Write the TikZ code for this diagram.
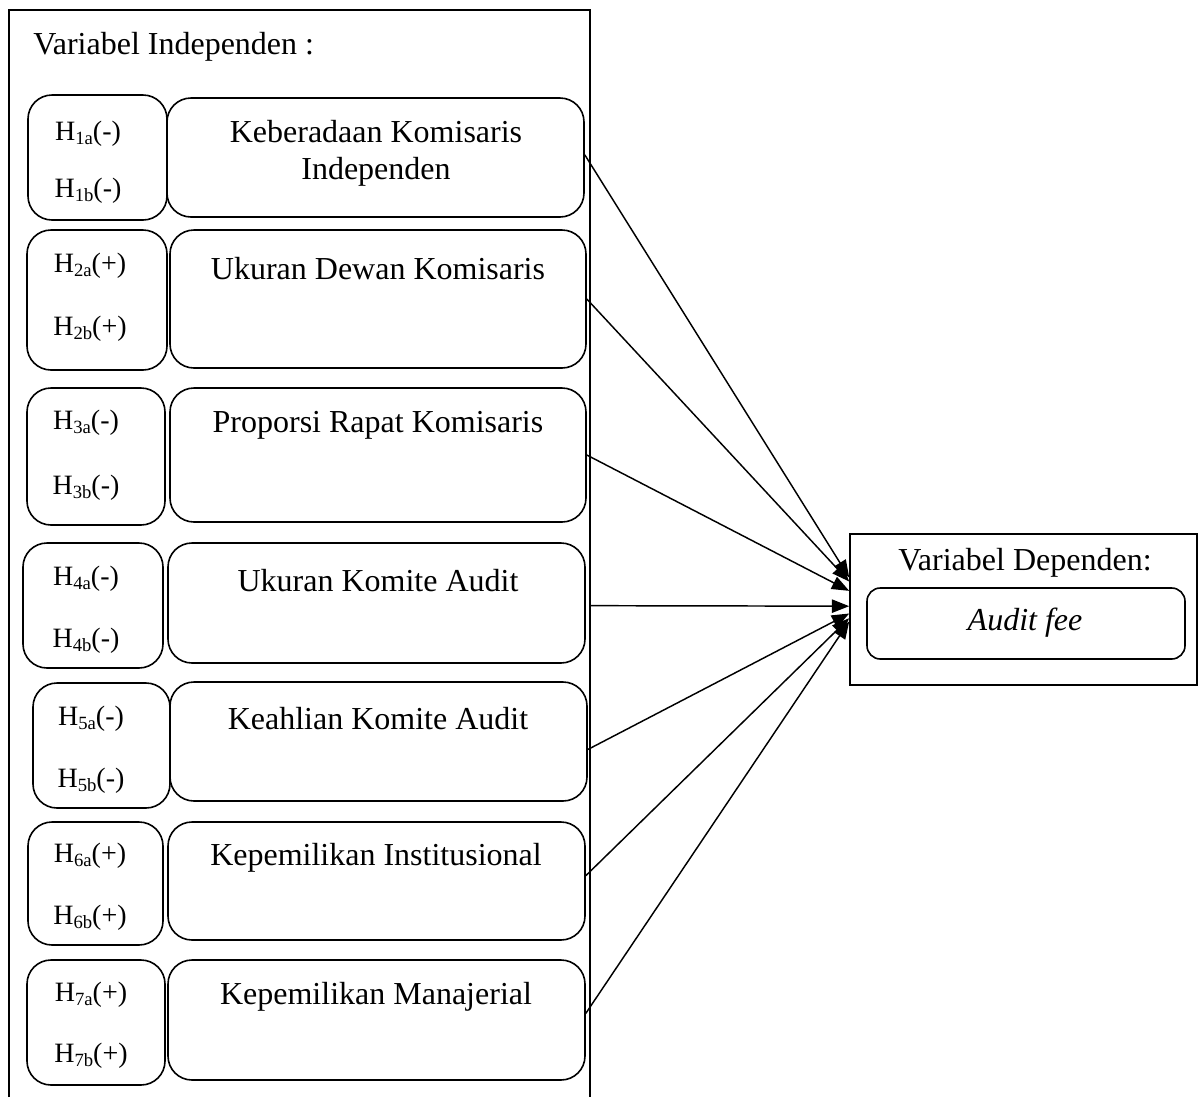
\documentclass[tikz,border=0pt]{standalone}
\usepackage{fontspec}
\setmainfont{Liberation Serif}
\usetikzlibrary{fit,arrows.meta}
\newcommand\hsub[1]{\raisebox{-2.5pt}{\fontsize{14}{14}\selectfont #1}}
\begin{document}
\begin{tikzpicture}[x=0.75pt,y=-0.75pt,
  rbox/.style={draw,line width=1.2pt,rounded corners=18pt,inner sep=0pt},
  sbox/.style={draw,line width=1.2pt,inner sep=0pt},
  txt/.style={font=\fontsize{24}{27.75}\selectfont,inner sep=0pt,align=center},
  htxt/.style={font=\fontsize{21}{24}\selectfont,inner sep=0pt},
  arr/.style={line width=1.1pt,-{Triangle[length=13pt,width=10pt]}}]
\useasboundingbox (0,0) rectangle (1199,1097);

% outer frame of independent variables
\draw[line width=1.2pt] (9,1097) -- (9,10) -- (590,10) -- (590,1097);
\node[txt,anchor=west] (indep) at (33,47) {Variabel Independen :};

% row 1
\node[rbox,fit={(28,95) (167,220)}] (s1) {};
\node[rbox,fit={(167,98) (584,217)}] (b1) {};
\node[htxt] (h1a) at (88,134) {H\hsub{1a}(-)};
\node[htxt] (h1b) at (88,191) {H\hsub{1b}(-)};
\node[txt] (t1) at (376,153) {Keberadaan Komisaris\\Independen};

% row 2
\node[rbox,fit={(27,230) (167,370)}] (s2) {};
\node[rbox,fit={(170,230) (586,368)}] (b2) {};
\node[htxt] (h2a) at (90,266) {H\hsub{2a}(+)};
\node[htxt] (h2b) at (90,329) {H\hsub{2b}(+)};
\node[txt] (t2) at (378,269) {Ukuran Dewan Komisaris};

% row 3
\node[rbox,fit={(27,388) (165,525)}] (s3) {};
\node[rbox,fit={(170,388) (586,522)}] (b3) {};
\node[htxt] (h3a) at (86,423) {H\hsub{3a}(-)};
\node[htxt] (h3b) at (86,488) {H\hsub{3b}(-)};
\node[txt] (t3) at (378,425) {Proporsi Rapat Komisaris};

% row 4
\node[rbox,fit={(23,543) (163,668)}] (s4) {};
\node[rbox,fit={(168,543) (585,663)}] (b4) {};
\node[htxt] (h4a) at (86,579) {H\hsub{4a}(-)};
\node[htxt] (h4b) at (86,641) {H\hsub{4b}(-)};
\node[txt] (t4) at (378,581) {Ukuran Komite Audit};

% row 5
\node[rbox,fit={(33,683) (170,808)}] (s5) {};
\node[rbox,fit={(170,682) (587,801)}] (b5) {};
\node[htxt] (h5a) at (91,719) {H\hsub{5a}(-)};
\node[htxt] (h5b) at (91,781) {H\hsub{5b}(-)};
\node[txt] (t5) at (378,719) {Keahlian Komite Audit};

% row 6
\node[rbox,fit={(28,822) (163,945)}] (s6) {};
\node[rbox,fit={(168,822) (585,940)}] (b6) {};
\node[htxt] (h6a) at (90,856) {H\hsub{6a}(+)};
\node[htxt] (h6b) at (90,918) {H\hsub{6b}(+)};
\node[txt] (t6) at (376,858) {Kepemilikan Institusional};

% row 7
\node[rbox,fit={(27,960) (165,1085)}] (s7) {};
\node[rbox,fit={(168,960) (585,1080)}] (b7) {};
\node[htxt] (h7a) at (91,995) {H\hsub{7a}(+)};
\node[htxt] (h7b) at (91,1056) {H\hsub{7b}(+)};
\node[txt] (t7) at (376,997) {Kepemilikan Manajerial};

% dependent variable
\node[sbox,fit={(850,534) (1197,685)}] (dep) {};
\node[txt] (deplbl) at (1025,563) {Variabel Dependen:};
\node[rbox,rounded corners=10pt,fit={(867,588) (1185,659)}] (fee) {};
\node[txt,font=\fontsize{24}{27.75}\selectfont\itshape] (feelbl) at (1025,623) {Audit fee};

% connectors
\draw[arr] ([yshift=2pt]b1.east) -- ([yshift=24pt]dep.west);
\draw[arr] (b2.east) -- ([yshift=21pt]dep.west);
\draw[arr] (b3.east) -- ([yshift=14pt]dep.west);
\draw[arr] ([xshift=4pt,yshift=-2pt]b4.east) -- ([yshift=2.5pt]dep.west);
\draw[arr] ([yshift=-6pt]b5.east) -- ([yshift=-3pt]dep.west);
\draw[arr] ([yshift=4pt]b6.east) -- ([yshift=-6.5pt]dep.west);
\draw[arr] ([yshift=5pt]b7.east) -- ([yshift=-9pt]dep.west);
\end{tikzpicture}
\end{document}
